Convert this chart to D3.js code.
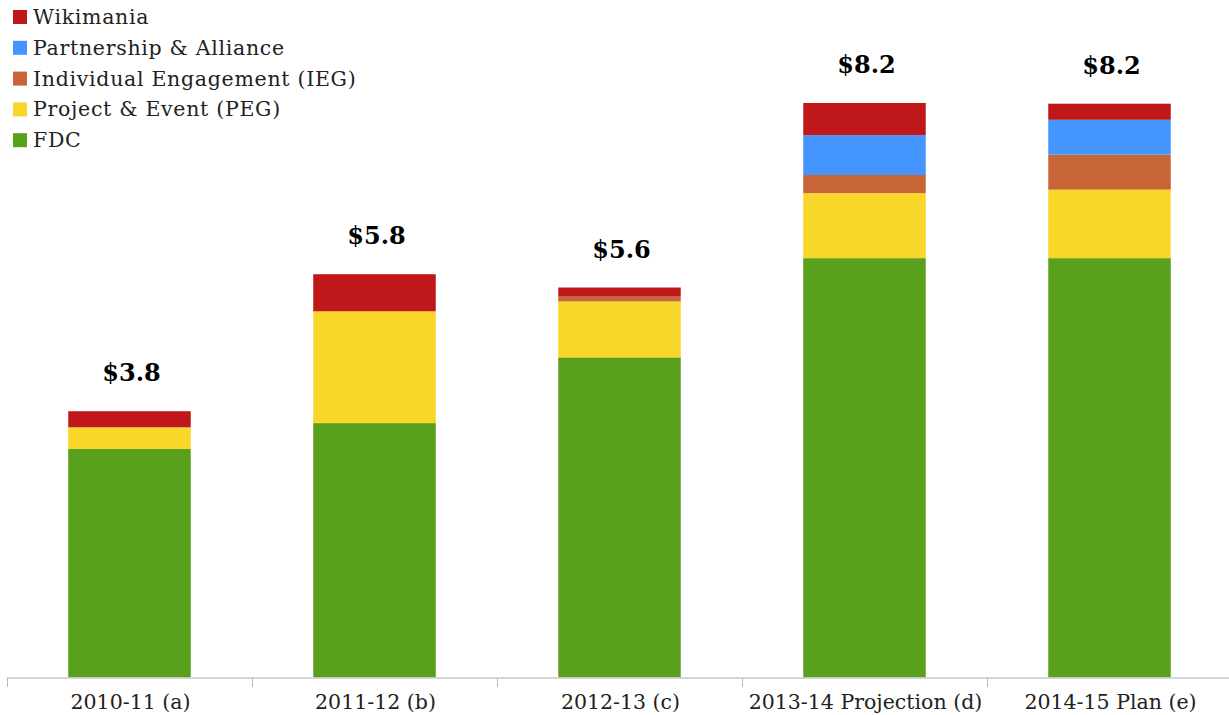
<!DOCTYPE html>
<html>
<head>
<meta charset="utf-8">
<script src="https://cdn.jsdelivr.net/npm/d3@7"></script>
<style>
    body { margin: 0; background: #fff; }
    svg text { font-family: "DejaVu Serif", serif; }
</style>
</head>
<body>
<div id="chart"></div>
<script>
// chart data ($ millions)
const categories = ["2010-11 (a)", "2011-12 (b)", "2012-13 (c)", "2013-14 Projection (d)", "2014-15 Plan (e)"];
const seriesNames = ["FDC", "Project & Event (PEG)", "Individual Engagement (IEG)", "Partnership & Alliance", "Wikimania"];
const fdc = [3.27, 3.64, 4.58, 6.00, 6.00];
const peg = [0.31, 1.60, 0.80, 0.93, 0.98];
const ieg = [0.00, 0.00, 0.07, 0.26, 0.50];
const partnership = [0.00, 0.00, 0.00, 0.57, 0.50];
const wikimania = [0.23, 0.53, 0.13, 0.46, 0.23];
const totalLabels = ["$3.8", "$5.8", "$5.6", "$8.2", "$8.2"];

const colors = ["#59a01c", "#f9d62a", "#c86638", "#4595ff", "#c0171b"];

const width = 1229, height = 715;
const svg = d3.select("#chart").append("svg")
    .attr("width", width)
    .attr("height", height);

let rows = categories.map(function(c, i){
    return {cat: c, s0: fdc[i], s1: peg[i], s2: ieg[i], s3: partnership[i], s4: wikimania[i]};
});
let keys = ["s0", "s1", "s2", "s3", "s4"];
let stacked = d3.stack().keys(keys)(rows);
let total = function(d){ return d.s0 + d.s1 + d.s2 + d.s3 + d.s4; };
let yMax = d3.max(rows, total);

let x = d3.scaleBand()
    .domain(categories)
    .range([7, 1232])
    .paddingInner(0.5)
    .paddingOuter(0.25);

let y = d3.scaleLinear()
    .domain([0, yMax])
    .range([677.5, 103]);

// stacked bars
svg.append("g").selectAll("g")
    .data(stacked)
    .enter().append("g")
    .attr("fill", function(d, i){ return colors[i]; })
    .selectAll("rect")
    .data(function(d){ return d; })
    .enter().append("rect")
    .attr("x", function(d){ return x(d.data.cat); })
    .attr("width", x.bandwidth())
    .attr("y", function(d){ return y(d[1]); })
    .attr("height", function(d){ return y(d[0]) - y(d[1]); });

// total labels
svg.append("g").selectAll("text")
    .data(rows)
    .enter().append("text")
    .attr("x", function(d){ return x(d.cat) + x.bandwidth()/2 + 2; })
    .attr("y", function(d){ return y(total(d)) - 30; })
    .attr("text-anchor", "middle")
    .style("font-size", "24px")
    .style("font-weight", "bold")
    .attr("fill", "#000")
    .text(function(d, i){ return totalLabels[i]; });

// x axis
let axis = svg.append("g").attr("transform", "translate(0," + 678 + ")");
axis.append("line")
    .attr("x1", 7).attr("x2", width)
    .attr("y1", 0).attr("y2", 0)
    .attr("stroke", "#c8c8c8")
    .attr("stroke-width", 1.5);

let gap = (x.step() - x.bandwidth())/2;
axis.selectAll(".tick")
    .data(categories)
    .enter().append("line")
    .attr("class", "tick")
    .attr("x1", function(d){ return Math.round(x(d) - gap) + 0.5; })
    .attr("x2", function(d){ return Math.round(x(d) - gap) + 0.5; })
    .attr("y1", 0).attr("y2", 9)
    .attr("stroke", "#b8b8b8");

axis.selectAll(".label")
    .data(categories)
    .enter().append("text")
    .attr("class", "label")
    .attr("x", function(d){ return x(d) + x.bandwidth()/2 + 1; })
    .attr("y", 31)
    .attr("text-anchor", "middle")
    .style("font-size", "20.5px")
    .attr("fill", "#222")
    .text(function(d){ return d; });

// legend (top to bottom: last series first)
let legendOrder = [4, 3, 2, 1, 0];
let legend = svg.append("g").selectAll("g")
    .data(legendOrder)
    .enter().append("g")
    .attr("transform", function(d, i){ return "translate(13," + (24 + i * 30.8) + ")"; });

legend.append("rect")
    .attr("y", -14)
    .attr("width", 14).attr("height", 14)
    .attr("fill", function(d){ return colors[d]; });

legend.append("text")
    .attr("x", 20)
    .attr("y", 0)
    .style("font-size", "20.5px")
    .style("letter-spacing", "0.7px")
    .attr("fill", "#222")
    .text(function(d){ return seriesNames[d]; });
</script>
</body>
</html>
